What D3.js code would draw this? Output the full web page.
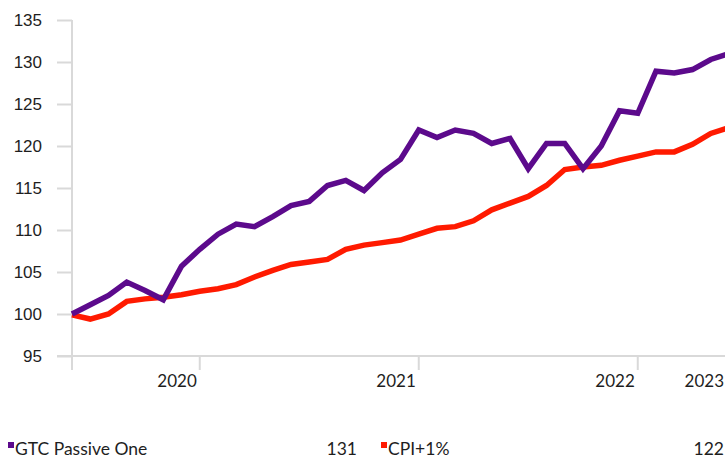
<!DOCTYPE html>
<html>
<head>
<meta charset="utf-8">
<script src="https://cdn.jsdelivr.net/npm/d3@7"></script>
<style>
  body { margin: 0; background: #ffffff; }
  svg { display: block; font-family: Lato, "Open Sans", sans-serif; }
</style>
</head>
<body>
<div id="chart"></div>
<script>
// monthly index values, both series rebased to 100
const gtcPassiveOne = [100.0, 101.1, 102.2, 103.8, 102.8, 101.7, 105.7, 107.7, 109.5, 110.7,
  110.4, 111.6, 112.9, 113.4, 115.3, 115.9, 114.7, 116.8, 118.4, 121.9,
  121.0, 121.9, 121.5, 120.3, 120.9, 117.3, 120.3, 120.3, 117.3, 120.0,
  124.2, 123.9, 128.9, 128.7, 129.1, 130.3, 131.0];
const cpiPlus1 = [99.9, 99.4, 100.0, 101.5, 101.8, 102.0, 102.3, 102.7, 103.0, 103.5,
  104.4, 105.2, 105.9, 106.2, 106.5, 107.7, 108.2, 108.5, 108.8, 109.5,
  110.2, 110.4, 111.1, 112.4, 113.2, 114.0, 115.3, 117.2, 117.5, 117.7,
  118.3, 118.8, 119.3, 119.3, 120.2, 121.5, 122.2];

// year labels and the month index where each one sits
const yearLabels = ["2020", "2021", "2022", "2023"];
const yearIndex = [7, 19, 31, 36];
const yTicks = [95, 100, 105, 110, 115, 120, 125, 130, 135];

const seriesNames = ["GTC Passive One", "CPI+1%"];
const seriesColors = ["#5c0a8c", "#ff1a00"];
const legendValues = ["131", "122"];

const w = 725, h = 459;
const svg = d3.select("#chart").append("svg")
  .attr("width", w).attr("height", h);

const x = d3.scaleLinear().domain([0, gtcPassiveOne.length - 1]).range([72, 729]);
const y = d3.scaleLinear().domain([95, 135]).range([356, 20]);

const gridColor = "#d9d9d9";
const textColor = "#1e1e1e";

// left axis with outside ticks
const yAxis = d3.axisLeft(y).tickValues(yTicks).tickSize(15).tickPadding(15);
const gy = svg.append("g").attr("transform", "translate(" + x(0) + ",0)").call(yAxis);
gy.select(".domain").remove();
gy.selectAll(".tick line").attr("stroke", gridColor).attr("stroke-width", 2);
gy.selectAll(".tick text").attr("fill", textColor).attr("font-size", 17);
gy.append("line")
  .attr("x1", 0).attr("x2", 0).attr("y1", y(135)).attr("y2", y(95) + 14)
  .attr("stroke", gridColor).attr("stroke-width", 2);

// bottom axis line and year ticks
svg.append("line")
  .attr("x1", x(0) - 15).attr("x2", w).attr("y1", y(95)).attr("y2", y(95))
  .attr("stroke", gridColor).attr("stroke-width", 2);

svg.append("g").selectAll("line")
  .data(yearIndex.slice(0, 3))
  .enter().append("line")
  .attr("x1", d => x(d)).attr("x2", d => x(d))
  .attr("y1", y(95)).attr("y2", y(95) + 14)
  .attr("stroke", gridColor).attr("stroke-width", 2);

svg.append("g").selectAll("text")
  .data(yearLabels)
  .enter().append("text")
  .attr("x", (d, i) => Math.min(x(yearIndex[i]) - 3, w - 1))
  .attr("y", 387)
  .attr("text-anchor", "end")
  .attr("font-size", 17)
  .attr("fill", textColor)
  .text(d => d);

// the two lines
const line = d3.line().x((d, i) => x(i)).y(d => y(d));
[cpiPlus1, gtcPassiveOne].forEach((s, k) => {
  svg.append("path")
    .datum(s)
    .attr("d", line)
    .attr("fill", "none")
    .attr("stroke", seriesColors[1 - k])
    .attr("stroke-width", 5.5)
    .attr("stroke-linejoin", "miter");
});

// legend
const legendX = [8, 381];
const legendValX = [357, 724];
seriesNames.forEach((name, i) => {
  svg.append("rect")
    .attr("x", legendX[i]).attr("y", 442)
    .attr("width", 6).attr("height", 6)
    .attr("fill", seriesColors[i]);
  svg.append("text")
    .attr("x", legendX[i] + 7).attr("y", 455)
    .attr("font-size", 17.5).attr("fill", textColor)
    .text(name);
  svg.append("text")
    .attr("x", legendValX[i]).attr("y", 455)
    .attr("text-anchor", "end")
    .attr("font-size", 17.5).attr("fill", textColor)
    .text(legendValues[i]);
});
</script>
</body>
</html>
